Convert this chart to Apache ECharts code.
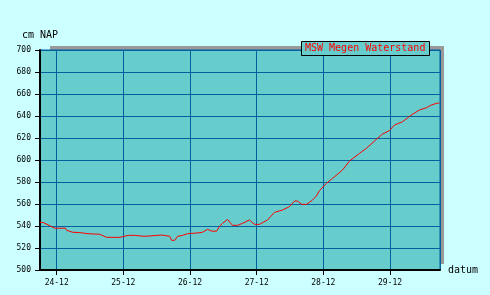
<!DOCTYPE html>
<html>
<head>
<meta charset="utf-8">
<script src="https://cdn.jsdelivr.net/npm/echarts@6/dist/echarts.min.js"></script>
<style>
html,body{margin:0;padding:0;background:#ccffff;}
#c{width:490px;height:295px;}
</style>
</head>
<body>
<div id="c"></div>
<script>
// hours relative to 24-12 00:00
var hours = [-6.1,-4.7,-0.7,3.2,3.6,5.8,8.3,11.2,15.5,16.2,18,22.7,23.4,25.9,28,28.4,31.7,32.4,37.8,38.1,40.7,41.4,42.5,43.5,45.3,47.1,50.4,52.5,54.3,55.8,57.6,58.6,59.7,61.5,63.3,65.1,66.9,69.4,71.2,73,75.9,78.4,81.3,83.8,85.6,86.7,88.2,90,92.1,93.5,94.6,97.1,99.3,102.9,105.4,109,111.5,115.1,117.3,119.8,121.6,124.5,127.7,130.6,133.1,134.9,136.7,137.8];
var levels = [543.4,543,538,538,536,534.3,534,533,532.5,531.2,529.7,529.7,530.6,531.5,531.5,530.6,530.6,531.8,531.8,530.6,530.6,527,527,530.6,531.5,533,533.6,534.3,537,535.3,535.3,539.7,542.4,546,540.6,540.6,542.4,545.5,541.5,541.5,545.5,552.4,554.5,557.6,562.7,562.7,559.7,559.7,563.6,567.3,572.1,578.8,583.3,590.9,599,606,610.6,618.8,623.6,626.7,631.8,634.8,640.9,645.5,647.5,650,651.5,651.8];
var seriesName = 'MSW Megen Waterstand';
var yTicks = {min: 500, max: 700, step: 20};
var xRangeHours = {min: -6, max: 138};

var base = new Date(2020, 11, 24, 0, 0, 0).getTime();
var H = 3600000;
var data = hours.map(function(h, i){ return [base + h*H, levels[i]]; });

var mono = 'DejaVu Sans Mono';
var chart = echarts.init(document.getElementById('c'), null, {renderer:'canvas'});
chart.setOption({
  backgroundColor: '#ccffff',
  animation: false,
  title: {
    text: seriesName,
    left: 301, top: 41,
    padding: [1, 4, 2, 4],
    backgroundColor: '#66cccc',
    borderColor: '#000',
    borderWidth: 1,
    textStyle: {color: '#ff0000', fontSize: 10, fontWeight: 'normal', fontFamily: mono, lineHeight: 12}
  },
  graphic: [
    {type:'rect', shape:{x:50, y:46, width:394, height:4}, style:{fill:'#999999'}, z:-1},
    {type:'rect', shape:{x:440, y:46, width:4, height:218}, style:{fill:'#999999'}, z:-1}
  ],
  grid: {
    left: 40, right: 50, top: 50, bottom: 25,
    show: true, backgroundColor: '#66cccc', borderColor: '#0060a0', borderWidth: 1
  },
  xAxis: {
    type: 'time',
    min: base + xRangeHours.min*H,
    max: base + xRangeHours.max*H,
    minInterval: 24*H, maxInterval: 24*H,
    name: 'datum', nameLocation: 'end', nameGap: 8,
    nameTextStyle: {fontFamily: mono, fontSize: 10, color: '#000', verticalAlign: 'middle'},
    axisLine: {show: true, onZero: false, lineStyle: {color: '#000', width: 2}},
    axisTick: {show: true, length: 5, lineStyle: {color: '#000', width: 1}},
    axisLabel: {
      fontFamily: mono, fontSize: 8, color: '#000', margin: 9,
      hideOverlap: false,
      formatter: function(v){ var d = new Date(v); var dd = ('0'+d.getDate()).slice(-2); var mm = ('0'+(d.getMonth()+1)).slice(-2); return dd + '-' + mm; }
    },
    splitLine: {show: true, lineStyle: {color: '#0060a0', width: 1}}
  },
  yAxis: {
    type: 'value',
    min: yTicks.min, max: yTicks.max, interval: yTicks.step,
    name: 'cm NAP', nameLocation: 'end', nameGap: 10,
    nameTextStyle: {fontFamily: mono, fontSize: 10, color: '#000'},
    axisLine: {show: true, lineStyle: {color: '#000', width: 2}},
    axisTick: {show: true, length: 5, lineStyle: {color: '#000', width: 1}},
    axisLabel: {fontFamily: mono, fontSize: 8, color: '#000', margin: 9},
    splitLine: {show: true, lineStyle: {color: '#0060a0', width: 1}}
  },
  series: [{
    name: seriesName,
    type: 'line',
    data: data,
    showSymbol: false,
    symbol: 'none',
    lineStyle: {color: '#ff0000', width: 1},
    z: 3
  }]
});
</script>
</body>
</html>
